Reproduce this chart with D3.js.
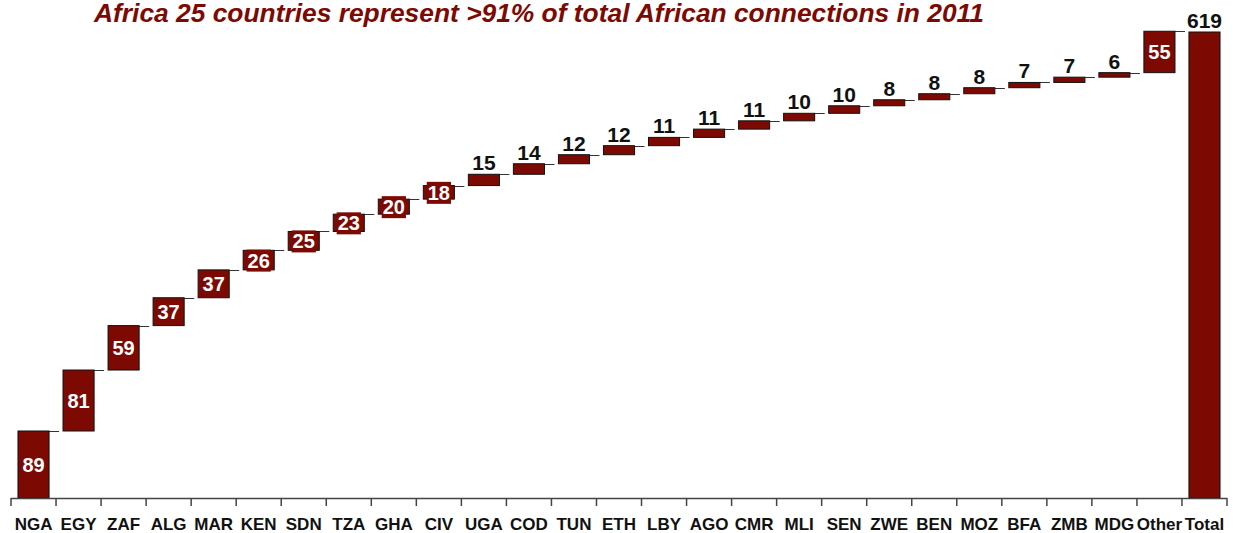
<!DOCTYPE html>
<html>
<head>
<meta charset="utf-8">
<script src="https://cdn.jsdelivr.net/npm/d3@7"></script>
<style>
  body { margin: 0; background: #fff; }
  text { font-family: "Liberation Sans", Arial, sans-serif; }
</style>
</head>
<body>
<svg id="chart" width="1233" height="533"></svg>
<script>
// data
var countries = ["NGA", "EGY", "ZAF", "ALG", "MAR", "KEN", "SDN", "TZA", "GHA", "CIV",
  "UGA", "COD", "TUN", "ETH", "LBY", "AGO", "CMR", "MLI", "SEN", "ZWE",
  "BEN", "MOZ", "BFA", "ZMB", "MDG", "Other"];
var connections = [89, 81, 59, 37, 37, 26, 25, 23, 20, 18,
  15, 14, 12, 12, 11, 11, 11, 10, 10, 8,
  8, 8, 7, 7, 6, 55];
var totalLabel = "Total";
var totalValue = 619;
var title = "Africa 25 countries represent >91% of total African connections in 2011";

var red = "#7d0a02";

var svg = d3.select("#chart");
var x0 = 11, x1 = 1227, yBase = 498, yTop = 32;

// build waterfall steps
var steps = [], run = 0;
countries.forEach(function (c, i) {
  steps.push({ name: c, value: connections[i], start: run, end: run + connections[i] });
  run += connections[i];
});
steps.push({ name: totalLabel, value: totalValue, start: 0, end: totalValue, total: true });

var x = d3.scaleBand()
  .domain(steps.map(function (d) { return d.name; }))
  .range([x0, x1])
  .paddingInner(0.31)
  .paddingOuter(0.155);

var y = d3.scaleLinear().domain([0, totalValue]).range([yBase, yTop]);

// title (stretched a bit, the original looks wider than Arial)
svg.append("text")
  .attr("x", 539).attr("y", 22)
  .attr("text-anchor", "middle")
  .attr("textLength", 890)
  .attr("lengthAdjust", "spacingAndGlyphs")
  .style("font-size", "25px")
  .style("font-weight", "bold")
  .style("font-style", "italic")
  .style("fill", red)
  .text(title);

// connectors
var bw = x.bandwidth();
svg.append("g").selectAll("line")
  .data(steps.slice(0, steps.length - 1))
  .enter().append("line")
  .attr("x1", function (d) { return x(d.name) + bw; })
  .attr("x2", function (d) { return x(d.name) + bw + 10; })
  .attr("y1", function (d) { return Math.round(y(d.end)) + 0.5; })
  .attr("y2", function (d) { return Math.round(y(d.end)) + 0.5; })
  .style("stroke", "#333")
  .style("stroke-width", 1);

// bars
svg.append("g").selectAll("rect")
  .data(steps)
  .enter().append("rect")
  .attr("x", function (d) { return x(d.name); })
  .attr("width", bw)
  .attr("y", function (d) { return y(d.end); })
  .attr("height", function (d) { return y(d.start) - y(d.end); })
  .style("fill", red)
  .style("stroke", "#111")
  .style("stroke-width", 1);

// axis
var axis = svg.append("g");
axis.append("line")
  .attr("x1", x0).attr("x2", x1)
  .attr("y1", yBase + 0.5).attr("y2", yBase + 0.5)
  .style("stroke", "#444").style("stroke-width", 1.5);
var step = x.step();
axis.selectAll("line.tick")
  .data(d3.range(steps.length + 1))
  .enter().append("line")
  .attr("class", "tick")
  .attr("x1", function (i) { return x0 + i * step; })
  .attr("x2", function (i) { return x0 + i * step; })
  .attr("y1", yBase).attr("y2", yBase + 8)
  .style("stroke", "#444").style("stroke-width", 1.5);
axis.selectAll("text")
  .data(steps)
  .enter().append("text")
  .attr("x", function (d) { return x(d.name) + bw / 2; })
  .attr("y", 530)
  .attr("text-anchor", "middle")
  .style("font-size", "17px")
  .style("font-weight", "bold")
  .style("fill", "#111")
  .text(function (d) { return d.name; });

// value labels
var labels = svg.append("g");
steps.forEach(function (d) {
  var cx = x(d.name) + bw / 2;
  var inside = !d.total && d.value >= 18;
  if (inside) {
    var mid = (y(d.start) + y(d.end)) / 2;
    var t = labels.append("text")
      .attr("x", cx).attr("y", mid + 7.5)
      .attr("text-anchor", "middle")
      .style("font-size", "20px")
      .style("font-weight", "bold")
      .style("fill", "#fff")
      .text(d.value);
    var bb = t.node().getBBox();
    labels.insert("rect", function () { return t.node(); })
      .attr("x", bb.x - 1).attr("y", bb.y)
      .attr("width", bb.width + 2).attr("height", bb.height)
      .style("fill", red);
  } else {
    labels.append("text")
      .attr("x", cx).attr("y", y(d.end) - 4)
      .attr("text-anchor", "middle")
      .style("font-size", "21px")
      .style("font-weight", "bold")
      .style("fill", "#111")
      .text(d.value);
  }
});
</script>
</body>
</html>
